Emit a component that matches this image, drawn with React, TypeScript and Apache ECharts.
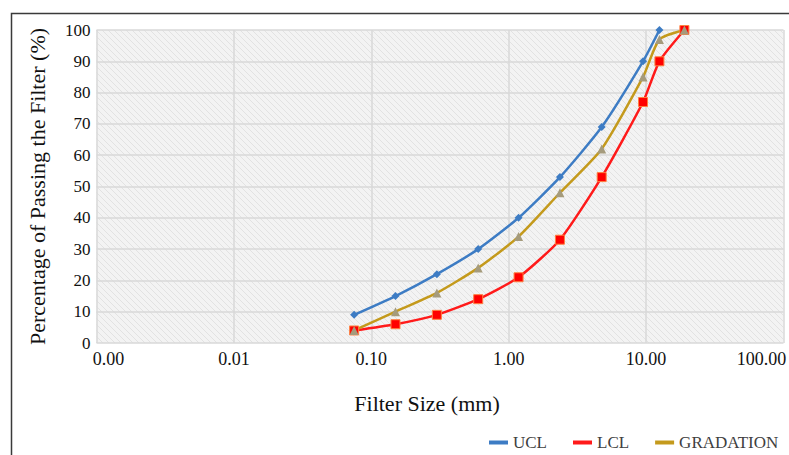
import React, { useEffect, useRef } from "react";
import * as echarts from "echarts";

const sieveSizes = [0.075, 0.15, 0.3, 0.6, 1.18, 2.36, 4.75, 9.5, 12.5, 19];
const uclValues = [9, 15, 22, 30, 40, 53, 69, 90, 100];
const lclValues = [4, 6, 9, 14, 21, 33, 53, 77, 90, 100];
const gradationValues = [4, 10, 16, 24, 34, 48, 62, 85, 97, 100];
const seriesNames = ["UCL", "LCL", "GRADATION"];
const seriesColors = ["#3d7cc4", "#ff1a1a", "#c49a1c"];

const FONT = "'Liberation Serif', 'Times New Roman', serif";

const toPairs = (vals: number[]) => vals.map((v, i) => [sieveSizes[i], v]);

function makeHatch() {
  const c = document.createElement("canvas");
  c.width = 6;
  c.height = 6;
  const ctx = c.getContext("2d");
  if (ctx) {
    ctx.fillStyle = "#f3f3f3";
    ctx.fillRect(0, 0, 6, 6);
    ctx.strokeStyle = "#e2e2e2";
    ctx.lineWidth = 1;
    ctx.beginPath();
    ctx.moveTo(-1, -1);
    ctx.lineTo(7, 7);
    ctx.moveTo(-4, 2);
    ctx.lineTo(4, 10);
    ctx.moveTo(2, -4);
    ctx.lineTo(10, 4);
    ctx.stroke();
  }
  return c;
}

export default function App() {
  const ref = useRef<HTMLDivElement>(null);
  useEffect(() => {
    if (!ref.current) return;
    const chart = echarts.init(ref.current, undefined, { renderer: "svg" });
    let bg: any = "#efefef";
    try {
      bg = { image: makeHatch(), repeat: "repeat" };
    } catch (e) {
      bg = "#efefef";
    }
    chart.setOption({
      animation: false,
      backgroundColor: "#ffffff",
      graphic: [
        {
          type: "rect",
          shape: { x: 11.5, y: 13.5, width: 900, height: 600 },
          style: { fill: "none", stroke: "#3a3a3a", lineWidth: 1.5 },
          silent: true,
        },
      ],
      grid: {
        left: 96.5,
        right: 5.5,
        top: 30,
        bottom: 112,
        outerBoundsMode: "none",
        containLabel: false,
        show: true,
        backgroundColor: bg,
        borderWidth: 0,
      },
      legend: {
        data: seriesNames.map((n, i) => ({
          name: n,
          icon: "rect",
          itemStyle: { color: seriesColors[i], borderWidth: 0 },
        })),
        left: 484,
        top: 429,
        itemWidth: 19,
        itemHeight: 4,
        itemGap: 26,
        textStyle: { fontFamily: FONT, fontSize: 17, color: "#404040" },
      },
      xAxis: {
        type: "log",
        logBase: 10,
        min: 0.001,
        max: 100,
        name: "Filter Size (mm)",
        nameLocation: "middle",
        nameGap: 49,
        nameTextStyle: {
          fontFamily: FONT,
          fontSize: 22,
          color: "#111",
          padding: [0, 26, 0, 0],
        },
        axisLine: { show: false },
        axisTick: { show: false },
        axisLabel: {
          margin: 7,
          fontFamily: FONT,
          fontSize: 18,
          color: "#111",
          formatter: (v: number) => {
            const t = v.toFixed(2);
            if (v < 0.005) return "{l|" + t + "}";
            if (v > 50) return "{r|" + t + "}";
            return t;
          },
          rich: {
            l: { fontFamily: FONT, fontSize: 18, color: "#111", padding: [0, 0, 0, 24] },
            r: { fontFamily: FONT, fontSize: 18, color: "#111", padding: [0, 44, 0, 0] },
          },
          showMinLabel: true,
          showMaxLabel: true,
          hideOverlap: false,
        },
        splitLine: { show: true, lineStyle: { color: "#d9d9d9", width: 1.5 } },
      },
      yAxis: {
        type: "value",
        min: 0,
        max: 100,
        interval: 10,
        name: "Percentage of Passing the Filter (%)",
        nameLocation: "middle",
        nameGap: 48,
        nameTextStyle: { fontFamily: FONT, fontSize: 22, color: "#111" },
        axisLine: { show: false },
        axisTick: { show: false },
        axisLabel: { margin: 6, fontFamily: FONT, fontSize: 17, color: "#111" },
        splitLine: { show: true, lineStyle: { color: "#d9d9d9", width: 1.5 } },
      },
      series: [
        {
          name: "UCL",
          type: "line",
          data: toPairs(uclValues),
          smooth: 0.2,
          symbol: "diamond",
          symbolSize: 8,
          lineStyle: { color: seriesColors[0], width: 2.5 },
          itemStyle: { color: seriesColors[0] },
        },
        {
          name: "LCL",
          type: "line",
          data: toPairs(lclValues),
          smooth: 0.2,
          symbol: "rect",
          symbolSize: 9,
          lineStyle: { color: seriesColors[1], width: 2.5 },
          itemStyle: { color: "#ff0000", borderColor: "#ff8040", borderWidth: 1 },
        },
        {
          name: "GRADATION",
          type: "line",
          data: toPairs(gradationValues),
          smooth: 0.2,
          symbol: "triangle",
          symbolSize: 9,
          lineStyle: { color: seriesColors[2], width: 2.5 },
          itemStyle: { color: "#a59b7c" },
        },
      ],
    });
    return () => chart.dispose();
  }, []);
  return (
    <div
      ref={ref}
      style={{ position: "fixed", left: 0, top: 0, width: 789, height: 455 }}
    />
  );
}
